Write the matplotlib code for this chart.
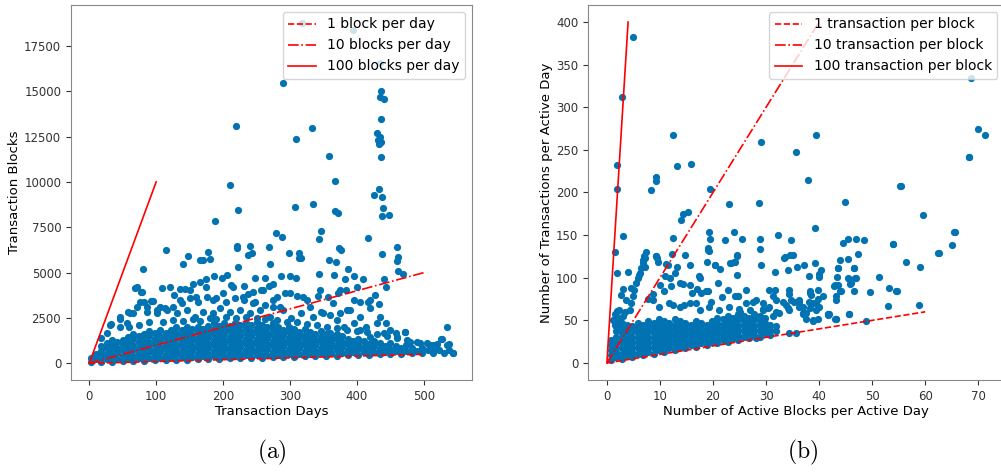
import numpy as np
import matplotlib
matplotlib.use("Agg")
import matplotlib.pyplot as plt

plt.rcParams['mathtext.fontset'] = 'cm'

DOT = '#0173B2'

# ---- panel (a): transaction days vs transaction blocks ----
# dense body of the cloud, read column by column (days -> blocks)
a_body_days = [2, 10, 18, 26, 34, 42, 50, 58, 66, 74, 82, 90, 98, 106, 114, 122,
               130, 138, 146, 154, 162, 170, 178, 186, 194, 202, 210, 218, 226, 234,
               242, 250, 258, 266, 274, 282, 290, 298, 306, 314, 322, 330, 338, 346,
               354, 362, 370, 378, 386, 394, 402, 410, 418, 426, 434, 442, 450, 458,
               466, 474, 482, 490, 498, 506, 514, 522, 530, 538]
a_body_blocks = [
    [60, 300], [220, 520], [78, 378, 678, 978], [236, 536, 836, 1136],
    [94, 394, 694, 994, 1294], [252, 552, 852, 1152], [110, 410, 710, 1010, 1310],
    [268, 568, 868, 1168, 1468], [126, 426, 726, 1026, 1326, 1626],
    [284, 584, 884, 1184, 1484], [142, 442, 742, 1042, 1342, 1642],
    [300, 600, 900, 1200, 1500, 1800], [158, 458, 758, 1058, 1358, 1658],
    [316, 616, 916, 1216, 1516, 1816], [174, 474, 774, 1074, 1374, 1674],
    [332, 632, 932, 1232, 1532, 1832], [190, 490, 790, 1090, 1390, 1690, 1990],
    [348, 648, 948, 1248, 1548, 1848], [206, 506, 806, 1106, 1406, 1706, 2006],
    [364, 664, 964, 1264, 1564, 1864], [222, 522, 822, 1122, 1422, 1722, 2022],
    [380, 680, 980, 1280, 1580, 1880], [238, 538, 838, 1138, 1438, 1738, 2038],
    [396, 696, 996, 1296, 1596, 1896, 2196], [254, 554, 854, 1154, 1454, 1754, 2054],
    [412, 712, 1012, 1312, 1612, 1912, 2212], [270, 570, 870, 1170, 1470, 1770, 2070],
    [428, 728, 1028, 1328, 1628, 1928, 2228], [286, 586, 886, 1186, 1486, 1786, 2086],
    [444, 744, 1044, 1344, 1644, 1944, 2244], [302, 602, 902, 1202, 1502, 1802, 2102],
    [460, 760, 1060, 1360, 1660, 1960, 2260], [318, 618, 918, 1218, 1518, 1818, 2118],
    [476, 776, 1076, 1376, 1676, 1976], [334, 634, 934, 1234, 1534, 1834, 2134],
    [492, 792, 1092, 1392, 1692, 1992], [350, 650, 950, 1250, 1550, 1850],
    [508, 808, 1108, 1408, 1708, 2008], [366, 666, 966, 1266, 1566, 1866],
    [524, 824, 1124, 1424, 1724], [382, 682, 982, 1282, 1582, 1882],
    [540, 840, 1140, 1440, 1740], [398, 698, 998, 1298, 1598],
    [556, 856, 1156, 1456, 1756], [414, 714, 1014, 1314, 1614],
    [572, 872, 1172, 1472], [430, 730, 1030, 1330, 1600], [588, 888, 1188, 1488],
    [446, 746, 1046, 1346], [604, 904, 1204], [462, 762, 1062, 1362],
    [620, 920, 1220], [478, 778, 1078], [636, 936, 1236], [494, 794, 1094],
    [652, 952], [510, 810, 1110], [668, 968], [526, 826], [684, 984],
    [542, 842], [700], [558, 858], [716], [574, 850], [732], [590], [748],
]
# scattered points above the body
a_points = [
    (318, 18780), (394, 18380), (434, 16580), (290, 15480), (436, 15030), (434, 14670),
    (440, 14560), (219, 13090), (333, 12980), (309, 12350), (436, 13470), (430, 12720),
    (434, 12500), (432, 12310), (433, 12090), (436, 12220), (436, 11360), (358, 11450),
    (210, 9810), (367, 10050), (433, 9610), (425, 9300), (437, 9150), (223, 8450),
    (307, 8640), (334, 8800), (367, 8380), (372, 8270), (439, 8550), (437, 8120),
    (448, 8200), (188, 7830), (279, 7190), (288, 6970), (347, 7300), (343, 6870),
    (417, 6930), (114, 6270), (221, 6490), (221, 6340), (241, 6470), (238, 5990),
    (243, 6100), (268, 6400), (178, 6120), (181, 5770), (147, 5920), (165, 5700),
    (170, 5700), (298, 6100), (313, 6100), (313, 5800), (317, 5800), (358, 5720),
    (369, 5570), (374, 6350), (377, 6250), (437, 6050), (460, 6410), (462, 5880),
    (460, 5640), (81, 5180), (222, 5290), (270, 5460), (140, 5480), (386, 5220),
    (462, 5070), (469, 4930), (440, 4670), (444, 4190), (287, 4800), (300, 4830),
    (309, 4720), (343, 4910), (366, 4890), (382, 4630), (396, 4830), (409, 4670),
    (247, 4690), (263, 4720), (274, 4390),
    (69, 4170), (79, 3910), (76, 3380), (82, 3400), (96, 3450), (108, 4130), (121, 4220),
    (135, 4120), (143, 4120), (155, 4350), (165, 4500), (175, 4630), (186, 4820),
    (198, 4690), (206, 4870), (212, 4320), (231, 4260), (237, 3800), (245, 3930),
    (256, 4040), (268, 4260), (280, 3680), (293, 3860), (311, 3730), (325, 3490),
    (342, 3710), (357, 3680), (372, 3860), (384, 4040), (400, 4190), (416, 3400),
    (427, 3770), (433, 3270), (419, 3030), (404, 3400), (389, 2940), (375, 2760),
    (360, 2670), (347, 2850), (335, 2570), (317, 2760), (302, 2480), (290, 2940),
    (31, 2110), (46, 2570), (58, 2850), (71, 3120), (86, 2850), (101, 2940), (113, 3030),
    (125, 3120), (138, 3310), (150, 3580), (163, 3400), (176, 3680), (190, 3580),
    (205, 3400), (218, 3580), (232, 3490), (248, 3400), (262, 3220), (275, 3120),
    (534, 2020), (543, 590), (526, 1320), (514, 1010), (472, 1750), (459, 1650),
    (33, 2150), (46, 2440), (61, 2760), (71, 4190), (78, 3950), (93, 3450), (106, 3120),
    (126, 3770), (136, 3490), (150, 4040), (160, 3670), (175, 4230), (185, 3490),
    (200, 3860), (215, 4230), (230, 3670), (245, 3310), (260, 4040), (275, 3490),
    (46, 2020), (56, 2200), (66, 2760), (86, 3120), (101, 2760), (116, 2940), (131, 2760),
    (146, 2940), (158, 2570), (170, 2850), (185, 2760), (195, 3030), (210, 2850),
    (225, 2940), (240, 2760), (255, 2940), (270, 2570), (18, 1380), (26, 1650),
    (60, 2000), (75, 2100), (90, 2250), (110, 2300), (125, 2400), (140, 2350), (155, 2450),
    (165, 2350), (180, 2500), (190, 2450), (205, 2550), (220, 2500), (235, 2550),
    (250, 2500), (262, 2450), (280, 2400), (295, 2300), (310, 2250), (325, 2150),
    (340, 2100), (355, 2000), (370, 1950), (385, 1850), (400, 1800), (415, 1700),
    (430, 1600), (445, 1500), (460, 1400), (475, 1300), (490, 1200), (505, 1100),
    (520, 1050), (535, 1000),
    (275, 2200), (285, 3120), (300, 3860), (320, 3670), (330, 3120), (345, 4040),
    (350, 2760), (365, 3310), (375, 4040), (385, 2940), (395, 3490), (405, 2570),
    (420, 3490), (430, 2200), (405, 1840), (420, 1470), (440, 1650), (449, 1840),
    (460, 1470), (472, 1740), (479, 1190), (494, 1100), (509, 1010), (527, 1320),
    (537, 1060), (544, 585), (380, 2020), (370, 2390), (360, 1650), (395, 2200),
    (414, 2020), (434, 2570), (444, 2200),
]
a_ref_labels = ['1 block per day', '10 blocks per day', '100 blocks per day']
a_ref_rate = [1, 10, 100]
a_ref_end = [500, 500, 100]

# ---- panel (b): active blocks vs transactions per active day ----
b_body_blocks = [0.8, 1.8, 2.8, 3.8, 4.8, 5.8, 6.8, 7.8, 8.8, 9.8, 10.8, 11.8, 12.8,
                 13.8, 14.8, 15.8, 16.8, 17.8, 18.8, 19.8, 20.8, 21.8, 22.8, 23.8,
                 24.8, 25.8, 26.8, 27.8, 28.8, 29.8, 30.8, 31.8]
b_body_tx = [
    [3, 9, 15, 21, 27], [7, 13, 19, 25, 31, 37, 43, 49, 55],
    [5, 11, 17, 23, 29, 35, 41, 47], [9, 15, 21, 27, 33, 39, 45],
    [7, 13, 19, 25, 31, 37, 43], [11, 17, 23, 29, 35, 41, 47],
    [9, 15, 21, 27, 33, 39, 45], [13, 19, 25, 31, 37, 43, 49],
    [11, 17, 23, 29, 35, 41, 47], [15, 21, 27, 33, 39, 45, 51],
    [13, 19, 25, 31, 37, 43, 49], [17, 23, 29, 35, 41, 47],
    [15, 21, 27, 33, 39, 45, 51], [19, 25, 31, 37, 43, 49],
    [17, 23, 29, 35, 41, 47], [21, 27, 33, 39, 45],
    [19, 25, 31, 37, 43, 49], [23, 29, 35, 41, 47],
    [21, 27, 33, 39, 45], [25, 31, 37, 43, 49],
    [23, 29, 35, 41, 47, 53], [27, 33, 39, 45, 51],
    [25, 31, 37, 43, 49, 55], [29, 35, 41, 47, 53],
    [27, 33, 39, 45, 51, 57], [31, 37, 43, 49, 55],
    [29, 35, 41, 47, 53], [33, 39, 45, 51, 57],
    [31, 37, 43, 49, 55], [35, 41, 47, 53], [33, 39, 45], [37, 43],
]
b_points = [
    (4.96, 382), (2.76, 312), (1.88, 232), (1.95, 204), (3.08, 149), (1.51, 130),
    (1.88, 105), (4.02, 107), (68.6, 334), (70.0, 275), (71.2, 267), (68.3, 242),
    (12.55, 267), (39.4, 268), (29.1, 259), (35.6, 247), (13.3, 231), (15.8, 234),
    (9.2, 218), (9.2, 213), (8.35, 203), (19.4, 204), (37.9, 215), (55.3, 208),
    (23.1, 187), (28.7, 188), (44.8, 189), (14.3, 175), (15.3, 177), (14.0, 168),
    (59.6, 174), (19.3, 154), (23.9, 154), (39.2, 158), (65.6, 154), (32.3, 150),
    (12.5, 147), (19.4, 145), (22.2, 144), (25.4, 145), (28.9, 145), (34.7, 144),
    (44.5, 141), (45.4, 146), (47.0, 146), (48.4, 144), (54.0, 139), (65.0, 138),
    (62.4, 129), (28.9, 134), (19.1, 135), (19.3, 131), (9.2, 126), (9.5, 123),
    (14.7, 127), (24.5, 126), (33.3, 123), (35.0, 127), (47.3, 128), (45.5, 122),
    (56.4, 118), (59.0, 112), (37.2, 115), (39.2, 117), (11.05, 116), (13.2, 112),
    (15.6, 115), (20.3, 115), (21.4, 110), (23.4, 117), (24.1, 118), (24.5, 103),
    (17.4, 102), (12.9, 105), (29.0, 115), (31.6, 107), (34.1, 109), (35.9, 112),
    (38.0, 102), (40.3, 109), (39.9, 101), (43.5, 111), (43.4, 101), (46.5, 111),
    (47.0, 100), (51.2, 101), (45.6, 98), (46.1, 94), (42.8, 90), (44.1, 84),
    (46.5, 85), (49.5, 83), (53.1, 88), (54.5, 85), (53.0, 67), (58.9, 68),
    (48.8, 49), (43.1, 52), (45.7, 57), (39.7, 51), (38.8, 50), (41.7, 57),
    (40.0, 66), (39.8, 75), (38.1, 72), (38.5, 80), (35.3, 71), (36.3, 66),
    (31.6, 86), (31.4, 78), (34.4, 81), (33.1, 71), (34.1, 64), (30.4, 64),
    (29.4, 63), (26.3, 70), (24.9, 63), (27.5, 72), (21.7, 77), (24.2, 79),
    (24.7, 79), (26.2, 86), (19.6, 71), (17.8, 82), (16.1, 82), (16.9, 87),
    (18.7, 85), (14.3, 93), (11.9, 100), (10.1, 92), (10.7, 85), (8.7, 81),
    (7.8, 75), (12.4, 68), (14.5, 68), (16.8, 70),
    (7.4, 130), (7.1, 123), (6.8, 117), (6.5, 111), (6.2, 106), (5.8, 100), (5.5, 94),
    (5.2, 86), (4.9, 78), (4.6, 70), (4.3, 62), (7.0, 125), (6.0, 103), (7.1, 113),
    (6.8, 121), (2.7, 80), (3.6, 74), (1.9, 61), (3.0, 87), (4.6, 88),
    (9.3, 125), (9.6, 119), (11.5, 115), (10.9, 102), (12.1, 90), (13.7, 94),
    (15.6, 92), (17.5, 100), (19.0, 84), (20.9, 94), (22.8, 86), (24.7, 78),
    (28.1, 74), (30.6, 86), (31.9, 74), (34.4, 86), (36.3, 74), (38.2, 82),
    (40.7, 78), (41.6, 57), (34.4, 35), (28.1, 29),
    (8.7, 74), (9.9, 66), (11.8, 70), (13.7, 66), (15.6, 70), (17.5, 62), (19.3, 66),
    (21.2, 62), (23.1, 66), (25.0, 60), (26.9, 62), (29.4, 62), (31.9, 60), (34.4, 62),
    (36.9, 66), (39.4, 62), (43.2, 74), (43.5, 92),
    (37.5, 59), (38.8, 70), (41.6, 56), (43.0, 52), (45.6, 57), (42.9, 91), (44.0, 85),
    (43.2, 78), (45.9, 93), (45.5, 100), (46.8, 100), (46.5, 111), (43.5, 111),
    (44.0, 121), (54.6, 85), (54.0, 140), (62.5, 129), (65.5, 154), (55.4, 208),
    (68.2, 242), (36.3, 72), (38.2, 84), (36.9, 59), (37.5, 51), (38.8, 49), (39.7, 86),
    (40.0, 104), (35.7, 35), (41.9, 57), (43.2, 51), (36.9, 57), (38.2, 65), (39.4, 70),
    (33.8, 68), (34.7, 74), (32.5, 59), (31.3, 55), (30.6, 66), (29.4, 70),
    (12.3, 128), (19.1, 133), (18.9, 119), (20.3, 115), (23.2, 117), (24.0, 119),
    (24.6, 127), (33.5, 124), (34.5, 127),
    (2.0, 40), (2.5, 50), (1.5, 45), (3.0, 55), (1.2, 50), (1.6, 57), (3.5, 60), (2.2, 62),
]
b_ref_labels = ['1 transaction per block', '10 transaction per block',
                '100 transaction per block']
b_ref_rate = [1, 10, 100]
b_ref_end = [60, 40, 4]

ref_styles = ['--', '-.', '-']


def flatten(cols, vals):
    xs, ys = [], []
    for c, v in zip(cols, vals):
        for y in v:
            xs.append(c)
            ys.append(y)
    return xs, ys


def draw(ax, cols, vals, points, rates, ends, labels):
    bx, by = flatten(cols, vals)
    px, py = np.array(points).T
    ax.scatter(list(bx) + list(px), list(by) + list(py), s=27, color=DOT, linewidths=0)
    for rate, end, lab, ls in zip(rates, ends, labels, ref_styles):
        ax.plot([0, end], [0, rate * end], ls, color='red', lw=1.2, label=lab)
    ax.legend(loc='upper right', fontsize=10)
    ax.tick_params(labelsize=8.5, colors='#333333')
    for sp in ax.spines.values():
        sp.set_color('#888888')


fig = plt.figure(figsize=(10.01, 4.75), dpi=100)
ax1 = fig.add_axes([0.0709, 0.2, 0.4006, 0.7895])
ax2 = fig.add_axes([0.5874, 0.2, 0.4159, 0.7895])

draw(ax1, a_body_days, a_body_blocks, a_points, a_ref_rate, a_ref_end, a_ref_labels)
ax1.set_xlim(-27.3, 572)
ax1.set_ylim(-921, 19760)
ax1.set_xticks(np.arange(0, 501, 100))
ax1.set_yticks(np.arange(0, 17501, 2500))
ax1.set_xlabel('Transaction Days', fontsize=9.5, labelpad=2)
ax1.set_ylabel('Transaction Blocks', fontsize=9.5, labelpad=2)

draw(ax2, b_body_blocks, b_body_tx, b_points, b_ref_rate, b_ref_end, b_ref_labels)
ax2.set_xlim(-3.56, 74.9)
ax2.set_ylim(-20, 420)
ax2.set_xticks(np.arange(0, 71, 10))
ax2.set_yticks(np.arange(0, 401, 50))
ax2.set_xlabel('Number of Active Blocks per Active Day', fontsize=9.5, labelpad=2)
ax2.set_ylabel('Number of Transactions per Active Day', fontsize=9.5, labelpad=2)

fig.text(0.272, 0.035, r'$\mathrm{(a)}$', fontsize=17, ha='center')
fig.text(0.802, 0.035, r'$\mathrm{(b)}$', fontsize=17, ha='center')

fig.savefig('out.png', dpi=100)
